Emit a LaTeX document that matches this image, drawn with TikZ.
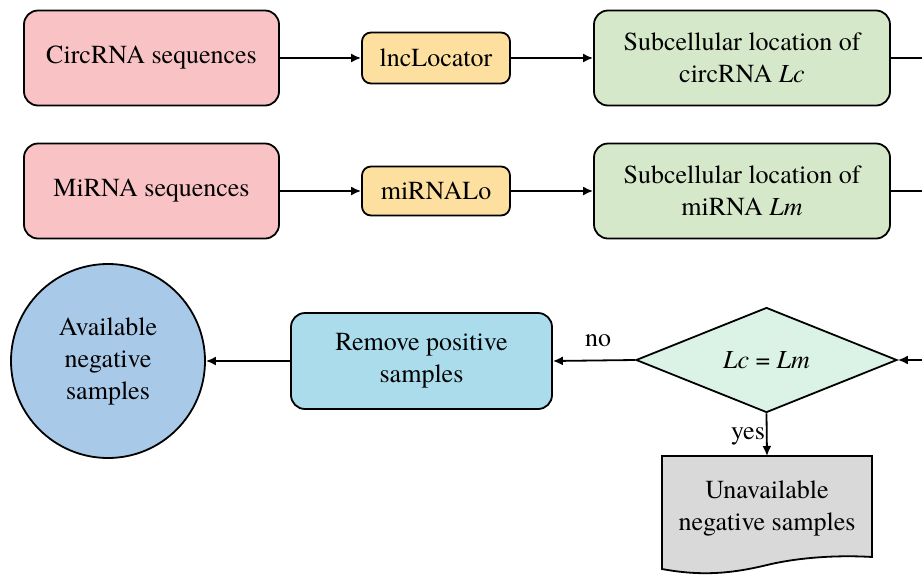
\documentclass[tikz,border=0pt]{standalone}
\usepackage{fontspec}
\setmainfont{texgyretermes}[Extension=.otf,UprightFont=*-regular,ItalicFont=*-italic,BoldFont=*-bold,BoldItalicFont=*-bolditalic]
\usetikzlibrary{arrows.meta,shapes.geometric}
\definecolor{cpink}{HTML}{F9C3C6}
\definecolor{corange}{HTML}{FDDF9F}
\definecolor{cgreen}{HTML}{D5E8C9}
\definecolor{cblue}{HTML}{A9C9E9}
\definecolor{cltblue}{HTML}{AADCEC}
\definecolor{cmint}{HTML}{DAF3E6}
\definecolor{cgray}{HTML}{D9D9D9}
\begin{document}
\begin{tikzpicture}[x=1pt,y=-1pt,
  font=\fontsize{26}{32}\selectfont,
  line width=1.8pt,
  box/.style={draw,rounded corners=14pt,align=center,inner sep=0pt},
  arr/.style={-{Latex[length=10pt,width=9pt]}},
  lbl/.style={inner sep=1pt}]
\useasboundingbox (0,0) rectangle (922,574);
\begin{scope}
\clip (0,0) rectangle (922,574);
% row 1
\node[box,fill=cpink,minimum width=255pt,minimum height=95pt] (circ) at (151.5,58) {CircRNA sequences};
\node[box,fill=corange,rounded corners=9pt,minimum width=148pt,minimum height=51pt] (lnc) at (436,58) {lncLocator};
\node[box,fill=cgreen,minimum width=296pt,minimum height=95pt] (locc) at (742,58) {Subcellular location of\\circRNA \textit{Lc}};
% row 2
\node[box,fill=cpink,minimum width=255pt,minimum height=95pt] (mirna) at (151.5,191) {MiRNA sequences};
\node[box,fill=corange,rounded corners=9pt,minimum width=148pt,minimum height=49pt] (milo) at (436,191) {miRNALo};
\node[box,fill=cgreen,minimum width=296pt,minimum height=95pt] (locm) at (742,191) {Subcellular location of\\miRNA \textit{Lm}};
% row 3
\node[draw,circle,fill=cblue,minimum size=194pt,align=center,inner sep=0pt] (avail) at (108,361) {Available\\negative\\samples};
\node[box,fill=cltblue,minimum width=261pt,minimum height=96pt] (remove) at (421.5,361) {Remove positive\\samples};
\node[draw,diamond,fill=cmint,aspect=2.49,minimum width=261pt,minimum height=105pt,inner sep=0pt] (dec) at (766.5,360) {\textit{Lc} = \textit{Lm}};
% document shape
\draw[fill=cgray] (662,456) -- (872,456) -- (872,557)
  .. controls (840,555) and (800,557) .. (767,565)
  .. controls (730,574) and (700,576) .. (662,569) -- cycle;
\node[align=center] (unav) at (767,508) {Unavailable\\negative samples};
\coordinate (unavtop) at (767,456);
% off-canvas coordinates
\coordinate (e1) at (922,58);
\coordinate (e2) at (922,191);
\coordinate (e3) at (930,360);
% connectors
\draw[arr] (circ.east) -- (lnc.west);
\draw[arr] (lnc.east) -- (locc.west);
\draw (locc.east) -- (e1);
\draw[arr] (mirna.east) -- (milo.west);
\draw[arr] (milo.east) -- (locm.west);
\draw (locm.east) -- (e2);
\draw[arr] (e3) -- (dec.east);
\draw[arr] (dec.west) -- node[lbl,above=12pt,pos=0.45] {no} (remove.east);
\draw[arr] (remove.west) -- (avail.east);
\draw[arr] (dec.south) -- node[lbl,left=0pt,pos=0.55] {yes} (unavtop);
\end{scope}
\end{tikzpicture}
\end{document}
